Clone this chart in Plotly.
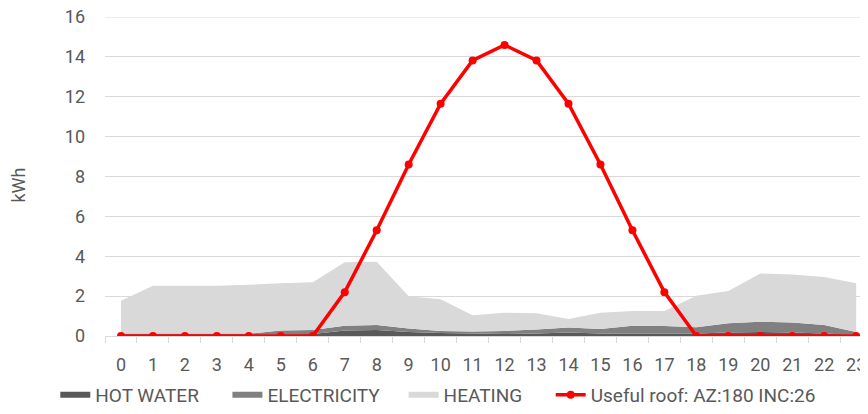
import plotly.graph_objects as go

hours = [str(h) for h in range(24)]
hot_water = [0.05, 0.05, 0.05, 0.05, 0.05, 0.08, 0.1, 0.27, 0.3, 0.2, 0.15, 0.12,
             0.1, 0.12, 0.17, 0.12, 0.12, 0.12, 0.12, 0.18, 0.2, 0.18, 0.12, 0.05]
electricity = [0.07, 0.07, 0.07, 0.07, 0.07, 0.19, 0.2, 0.25, 0.25, 0.18, 0.1, 0.1,
               0.15, 0.21, 0.26, 0.23, 0.4, 0.38, 0.32, 0.46, 0.52, 0.5, 0.43, 0.15]
heating = [1.65, 2.4, 2.4, 2.4, 2.45, 2.37, 2.39, 3.18, 3.18, 1.62, 1.59, 0.82,
           0.92, 0.81, 0.42, 0.82, 0.73, 0.75, 1.58, 1.62, 2.42, 2.4, 2.41, 2.44]
useful_roof = [0, 0, 0, 0, 0, 0, 0, 2.2, 5.3, 8.6, 11.65, 13.82, 14.6, 13.82,
               11.65, 8.6, 5.3, 2.2, 0, 0, 0, 0, 0, 0]
series_names = ["HOT WATER", "ELECTRICITY", "HEATING", "Useful roof: AZ:180 INC:26"]
y_title = "kWh"
y_max = 16

FONT = "Roboto, sans-serif"
TXT = "#595959"
GRID = "#d9d9d9"
PAD = "\u00a0"

fig = go.Figure()
fig.add_trace(go.Scatter(x=hours, y=hot_water, name=series_names[0] + PAD * 5,
                         stackgroup="s", mode="none", fillcolor="#595959"))
fig.add_trace(go.Scatter(x=hours, y=electricity, name=series_names[1] + PAD * 4,
                         stackgroup="s", mode="none", fillcolor="#808080"))
fig.add_trace(go.Scatter(x=hours, y=heating, name=series_names[2] + PAD * 5,
                         stackgroup="s", mode="none", fillcolor="#d9d9d9"))
fig.add_trace(go.Scatter(x=hours, y=useful_roof, name=series_names[3],
                         mode="lines+markers", line=dict(color="#ff0000", width=3.5),
                         marker=dict(color="#ff0000", size=8)))

# top gridline (plotly omits a gridline lying on the plot edge)
fig.add_shape(type="line", xref="paper", x0=0, x1=1, yref="y", y0=y_max, y1=y_max,
              line=dict(color=GRID, width=1), layer="below")

# y-axis title as a rotated annotation
fig.add_annotation(text=y_title, xref="paper", yref="paper", x=0, y=0.5,
                   xanchor="center", yanchor="middle", xshift=-87, yshift=-9,
                   textangle=-90, showarrow=False,
                   font=dict(family=FONT, size=18, color=TXT))

# page body has an 8px margin, so the figure is 8px smaller and margins shifted by 8
fig.update_layout(
    width=860, height=406,
    margin=dict(l=97, r=0, t=9, b=78, autoexpand=False),
    plot_bgcolor="white", paper_bgcolor="white",
    font=dict(family=FONT, size=18, color=TXT),
    showlegend=True,
    legend=dict(orientation="h", x=0.055, xanchor="left", xref="container",
                y=-0.2445, yanchor="bottom", yref="paper",
                bgcolor="rgba(0,0,0,0)", borderwidth=0,
                font=dict(family=FONT, size=19, color=TXT), traceorder="normal",
                itemwidth=30, tracegroupgap=0),
    xaxis=dict(type="category", range=[-0.5, 23.37], showgrid=False,
               showline=True, linecolor=GRID, linewidth=1,
               ticks="outside", tickson="boundaries", ticklen=6, tickcolor=GRID,
               ticklabelstandoff=12, automargin=False,
               tickfont=dict(size=18, color=TXT)),
    yaxis=dict(range=[0, y_max], dtick=2,
               showgrid=True, gridcolor=GRID, gridwidth=1,
               zeroline=False, showline=False, ticklabelstandoff=19, automargin=False,
               ticklabeloverflow="allow",
               tickfont=dict(size=18, color=TXT)),
)

fig.write_html("out.html")
